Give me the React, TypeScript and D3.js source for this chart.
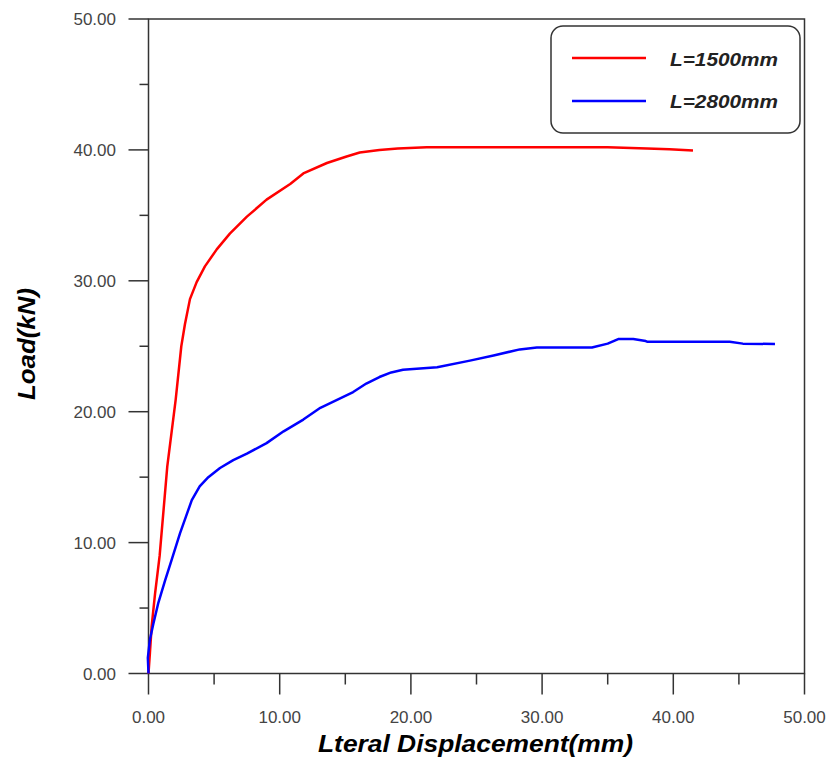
import React from "react";
import * as d3 from "d3";

const xTicks = [0, 10, 20, 30, 40, 50];
const yTicks = [0, 10, 20, 30, 40, 50];
const xMinor = [5, 15, 25, 35, 45];
const yMinor = [5, 15, 25, 35, 45];

const seriesNames = ["L=1500mm", "L=2800mm"];
const seriesColors = ["#ff0000", "#0000ff"];

const redDisp = [0, 0.11, 0.24, 0.5, 0.85, 1.43, 2.07, 2.5, 2.78, 3.16, 3.67, 4.3, 5.2, 6.2, 7.5, 9.0, 10.8, 11.8, 13.6, 15.1, 16.1, 17.6, 19.0, 21.2, 25, 30, 35.0, 38, 39.7, 41.5];
const redLoad = [0, 1.6, 3.6, 6.1, 9.0, 15.8, 20.9, 25, 26.7, 28.6, 29.9, 31.1, 32.4, 33.6, 34.9, 36.2, 37.4, 38.2, 39.0, 39.5, 39.8, 40.0, 40.1, 40.2, 40.2, 40.2, 40.2, 40.1, 40.05, 39.95];

const blueDisp = [0, -0.05, 0.11, 0.37, 0.75, 1.26, 1.77, 2.4, 2.86, 3.3, 3.9, 4.56, 5.45, 6.46, 7.5, 9.0, 10.3, 11.8, 13.1, 15.6, 16.6, 17.6, 18.5, 19.4, 22.0, 24.5, 26.3, 28.3, 29.6, 32.1, 33.8, 35.0, 35.8, 36.95, 37.9, 38.0, 44.3, 45.3, 47.75];
const blueLoad = [0, 1.2, 2.6, 3.8, 5.4, 7.1, 8.7, 10.7, 12.0, 13.25, 14.3, 15.0, 15.7, 16.3, 16.8, 17.6, 18.5, 19.4, 20.3, 21.5, 22.15, 22.65, 23.0, 23.2, 23.4, 23.9, 24.3, 24.76, 24.9, 24.9, 24.9, 25.2, 25.55, 25.55, 25.4, 25.35, 25.35, 25.2, 25.17];

const fmt = d3.format(".2f");

export default function App() {
  const W = 833, H = 763;
  const left = 148.5, right = 804.5, top = 19, bottom = 673.5;
  const x = d3.scaleLinear().domain([0, 50]).range([left, right]);
  const y = d3.scaleLinear().domain([0, 50]).range([bottom, top]);
  const line = d3.line<[number, number]>().x(d => x(d[0])).y(d => y(d[1]));
  const series = [
    redDisp.map((d, i) => [d, redLoad[i]] as [number, number]),
    blueDisp.map((d, i) => [d, blueLoad[i]] as [number, number]),
  ];
  const axisColor = "#333";
  const font = "'Liberation Sans', Arial, sans-serif";
  return (
    <svg width={W} height={H} style={{ position: "absolute", left: 0, top: 0, background: "#fff" }} fontFamily={font}>
      <rect x={0} y={0} width={W} height={H} fill="#fff" />
      {/* frame */}
      <rect x={left} y={top} width={right - left} height={bottom - top} fill="none" stroke={axisColor} strokeWidth={1.5} />
      {/* y ticks */}
      {yTicks.map(t => (
        <g key={"y" + t}>
          <line x1={left - 20} x2={left} y1={y(t)} y2={y(t)} stroke={axisColor} strokeWidth={1.5} />
          <text x={116} y={y(t)} dy="0.36em" textAnchor="end" fontSize={17} fill="#444">{fmt(t)}</text>
        </g>
      ))}
      {yMinor.map(t => (
        <line key={"ym" + t} x1={left - 9} x2={left} y1={y(t)} y2={y(t)} stroke={axisColor} strokeWidth={1.5} />
      ))}
      {/* x ticks */}
      {xTicks.map(t => (
        <g key={"x" + t}>
          <line x1={x(t)} x2={x(t)} y1={bottom} y2={bottom + 21} stroke={axisColor} strokeWidth={1.5} />
          <text x={x(t)} y={723} textAnchor="middle" fontSize={17} fill="#444">{fmt(t)}</text>
        </g>
      ))}
      {xMinor.map(t => (
        <line key={"xm" + t} x1={x(t)} x2={x(t)} y1={bottom} y2={bottom + 11} stroke={axisColor} strokeWidth={1.5} />
      ))}
      {/* series */}
      {series.map((s, i) => (
        <path key={i} d={line(s) || ""} fill="none" stroke={seriesColors[i]} strokeWidth={2.5} strokeLinejoin="round" />
      ))}
      {/* legend */}
      <rect x={551} y={26} width={249} height={107} rx={12} ry={12} fill="#fff" stroke={axisColor} strokeWidth={1.5} />
      {seriesNames.map((n, i) => (
        <g key={n}>
          <line x1={572} x2={646} y1={58 + i * 43} y2={58 + i * 43} stroke={seriesColors[i]} strokeWidth={2.5} />
          <text x={670} y={66 + i * 41.5} fontSize={19} fontWeight="bold" fontStyle="italic" fill="#222" textLength={108} lengthAdjust="spacingAndGlyphs">{n}</text>
        </g>
      ))}
      {/* axis titles */}
      <text x={318} y={752} fontSize={24} fontWeight="bold" fontStyle="italic" fill="#000" textLength={315} lengthAdjust="spacingAndGlyphs">Lteral Displacement(mm)</text>
      <text transform="translate(35,400) rotate(-90)" x={0} y={0} fontSize={24} fontWeight="bold" fontStyle="italic" fill="#000" textLength={112} lengthAdjust="spacingAndGlyphs">Load(kN)</text>
    </svg>
  );
}
